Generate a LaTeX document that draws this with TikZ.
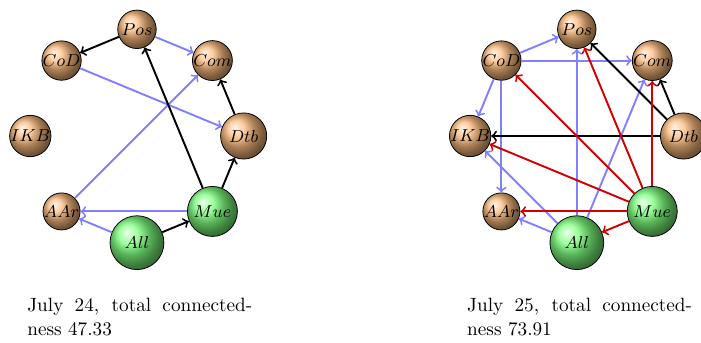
\documentclass[tikz,border=0pt]{standalone}
\usepackage{tikz}
\usetikzlibrary{arrows}
\definecolor{ballbrown}{RGB}{250,185,125}
\definecolor{ballgreen}{RGB}{125,255,125}
\definecolor{linkred}{RGB}{210,0,0}
\tikzstyle{bnode} = [circle,draw=black,shading=ball,ball color=ballbrown,inner sep=0pt,font=\small]
\tikzstyle{gnode} = [bnode,ball color=ballgreen]
\tikzstyle{blackarrow} = [->,line width=1pt,black]
\tikzstyle{bluearrow} = [->,line width=1pt,blue!50]
\tikzstyle{redarrow} = [->,line width=1pt,linkred]
\tikzstyle{caption} = [anchor=base west,inner sep=0pt,text width=4.11cm,align=justify]

\begin{document}
\begin{tikzpicture}
	\useasboundingbox (-2.504,-3.766) rectangle (10.31,2.486);
	\coordinate (c_1) at (0,0);
	\coordinate (c_2) at (8.04,0);
	% July 24
	\node[bnode,minimum size=20pt] at ([shift={(90:1.95cm)}]c_1) (Pos_1){$Pos$};
	\node[bnode,minimum size=18.5pt] at ([shift={(45:1.95cm)}]c_1) (Com_1){$Com$};
	\node[bnode,minimum size=24pt] at ([shift={(0:1.95cm)}]c_1) (Dtb_1){$Dtb$};
	\node[gnode,minimum size=26pt] at ([shift={(-45:1.95cm)}]c_1) (Mue_1){$Mue$};
	\node[gnode,minimum size=28pt] at ([shift={(-90:1.95cm)}]c_1) (All_1){$All$};
	\node[bnode,minimum size=17.5pt] at ([shift={(-135:1.95cm)}]c_1) (AAr_1){$AAr$};
	\node[bnode,minimum size=18pt] at ([shift={(180:1.95cm)}]c_1) (IKB_1){$IKB$};
	\node[bnode,minimum size=18pt] at ([shift={(135:1.95cm)}]c_1) (CoD_1){$CoD$};
	\path[bluearrow]
	(Pos_1) edge (Com_1)
	(CoD_1) edge (Dtb_1)
	(AAr_1) edge (Com_1)
	(Mue_1) edge (AAr_1)
	(All_1) edge (AAr_1);
	\path[blackarrow]
	(Pos_1) edge (CoD_1)
	(Dtb_1) edge (Com_1)
	(Mue_1) edge (Dtb_1)
		edge (Pos_1)
	(All_1) edge (Mue_1);
	\node[caption] (cap_1) at (-2.011,-3.217) {July 24, total connected-\linebreak ness 47.33};
	% July 25
	\node[bnode,minimum size=20pt] at ([shift={(90:1.95cm)}]c_2) (Pos_2){$Pos$};
	\node[bnode,minimum size=18.5pt] at ([shift={(45:1.95cm)}]c_2) (Com_2){$Com$};
	\node[bnode,minimum size=24pt] at ([shift={(0:1.95cm)}]c_2) (Dtb_2){$Dtb$};
	\node[gnode,minimum size=26pt] at ([shift={(-45:1.95cm)}]c_2) (Mue_2){$Mue$};
	\node[gnode,minimum size=28pt] at ([shift={(-90:1.95cm)}]c_2) (All_2){$All$};
	\node[bnode,minimum size=17.5pt] at ([shift={(-135:1.95cm)}]c_2) (AAr_2){$AAr$};
	\node[bnode,minimum size=18pt] at ([shift={(180:1.95cm)}]c_2) (IKB_2){$IKB$};
	\node[bnode,minimum size=18pt] at ([shift={(135:1.95cm)}]c_2) (CoD_2){$CoD$};
	\path[bluearrow]
	(CoD_2) edge (Pos_2)
		edge (Com_2)
		edge (IKB_2)
		edge (AAr_2)
	(All_2) edge (Pos_2)
		edge (Com_2)
		edge (IKB_2)
		edge (AAr_2);
	\path[blackarrow]
	(Dtb_2) edge (Pos_2)
		edge (Com_2)
		edge (IKB_2);
	\path[redarrow]
	(Mue_2) edge (CoD_2)
		edge (Pos_2)
		edge (Com_2)
		edge (IKB_2)
		edge (AAr_2)
		edge (All_2);
	\node[caption] (cap_2) at (6.03,-3.217) {July 25, total connected-\linebreak ness 73.91};
\end{tikzpicture}
\end{document}
